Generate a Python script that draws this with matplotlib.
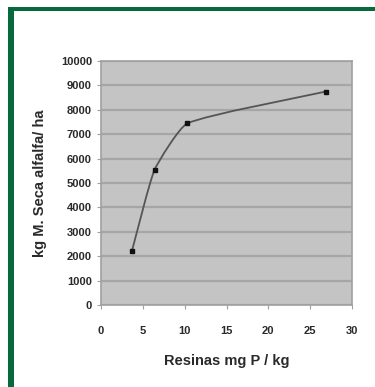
import matplotlib
matplotlib.use("Agg")
import matplotlib.pyplot as plt
from matplotlib.path import Path
from matplotlib.patches import PathPatch, Rectangle
import numpy as np

# données
resinas = [3.7, 6.4, 10.3, 26.9]
materia_seca = [2220, 5540, 7440, 8750]
x_ticks = [0, 5, 10, 15, 20, 25, 30]
y_ticks = [0, 1000, 2000, 3000, 4000, 5000, 6000, 7000, 8000, 9000, 10000]

plt.rcParams['font.family'] = ['Liberation Sans', 'DejaVu Sans']

fig = plt.figure(figsize=(3.75, 3.87), dpi=100)
fig.patch.set_facecolor('white')

# cadre vert (haut + gauche)
vert = '#07693c'
fig.add_artist(Rectangle((8 / 375, 1 - 11 / 387), 1, 4 / 387,
                         transform=fig.transFigure, color=vert, lw=0))
fig.add_artist(Rectangle((8 / 375, 0), 6 / 375, 1 - 7 / 387,
                         transform=fig.transFigure, color=vert, lw=0))

ax = fig.add_axes([101 / 375, 1 - 305 / 387, 251 / 375, 244 / 387])
ax.set_facecolor('#c4c4c4')
ax.set_xlim(0, 30)
ax.set_ylim(0, 10000)
ax.set_xticks(x_ticks)
ax.set_yticks(y_ticks)
ax.yaxis.grid(True, color='#a6a6a6', lw=1.6)
ax.set_axisbelow(True)
for s in ax.spines.values():
    s.set_color('#a0a0a0')
    s.set_linewidth(1.2)
ax.tick_params(axis='both', colors='#a0a0a0', length=3, width=0.8,
               labelcolor='#2a2a2a', labelsize=8)
for lab in ax.get_xticklabels() + ax.get_yticklabels():
    lab.set_fontweight('bold')
ax.tick_params(axis='x', pad=12)

# courbe lissée (style Excel) : Bézier calculée en unités "pixels" des axes
sx, sy = 251 / 30, 244 / 10000
pts = np.column_stack([np.array(resinas) * sx, np.array(materia_seca) * sy])
n = len(pts)
tang = []
for i in range(n):
    a = pts[max(i - 1, 0)]
    b = pts[min(i + 1, n - 1)]
    d = b - a
    tang.append(d / np.hypot(*d))
verts = [tuple(pts[0])]
codes = [Path.MOVETO]
for i in range(n - 1):
    seg = np.hypot(*(pts[i + 1] - pts[i]))
    c1 = pts[i] + tang[i] * seg * 0.15
    c2 = pts[i + 1] - tang[i + 1] * seg * 0.15
    verts += [tuple(c1), tuple(c2), tuple(pts[i + 1])]
    codes += [Path.CURVE4] * 3
verts = [(vx / sx, vy / sy) for vx, vy in verts]
ax.add_patch(PathPatch(Path(verts, codes), fill=False, edgecolor='#555555', lw=1.3))
ax.plot(resinas, materia_seca, ls='none', marker='s', ms=3.5, color='#111111')

ax.set_xlabel('Resinas mg P / kg', fontsize=10.5, fontweight='bold',
              color='#2a2a2a', labelpad=13)
fig.text(40 / 375, 1 - 183 / 387, 'kg M. Seca alfalfa/ ha', rotation=90,
         ha='center', va='center', fontsize=10.5, fontweight='bold', color='#2a2a2a')

fig.savefig('out.png', dpi=100)
